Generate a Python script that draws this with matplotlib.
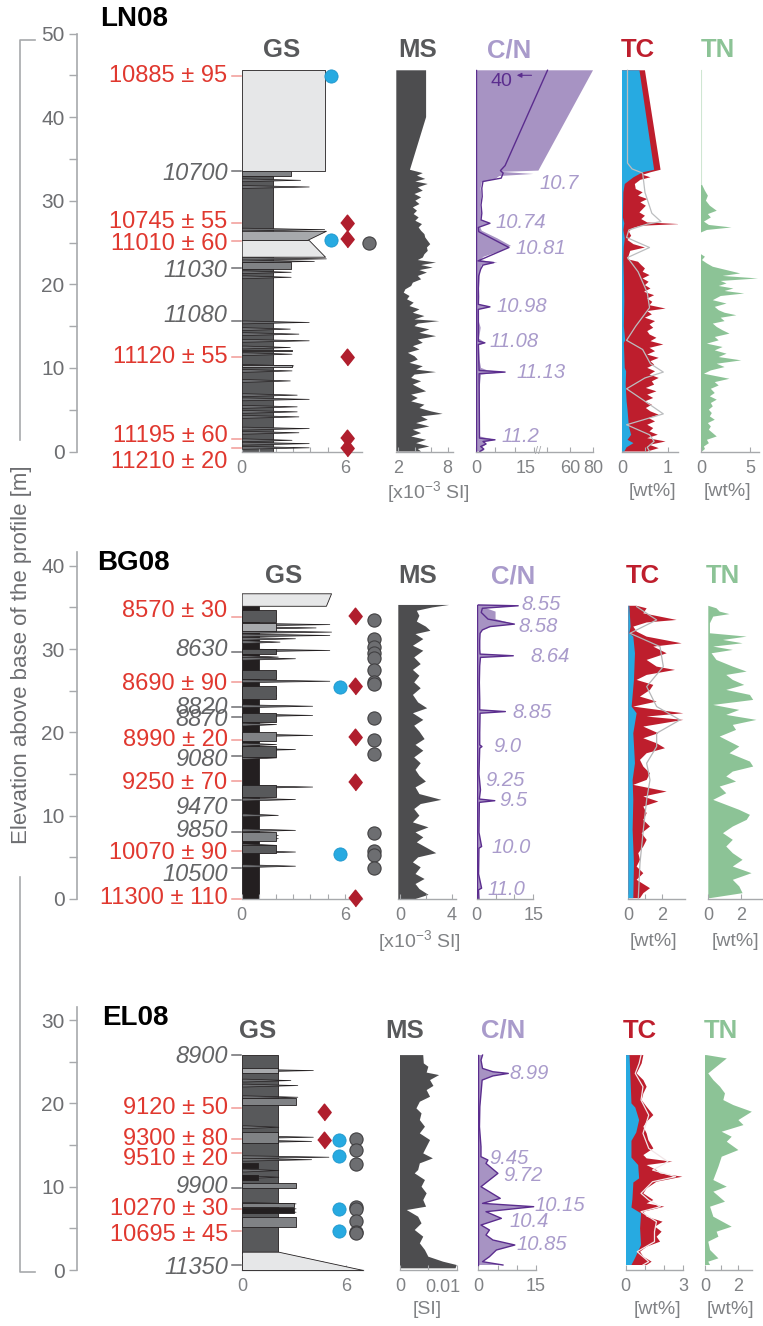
import numpy as np
import matplotlib
matplotlib.use('Agg')
import matplotlib.pyplot as plt
from matplotlib.lines import Line2D

plt.rcParams['font.family'] = ['Liberation Sans', 'DejaVu Sans']
plt.rcParams['mathtext.fontset'] = 'custom'
plt.rcParams['mathtext.rm'] = 'Liberation Sans'
plt.rcParams['mathtext.it'] = 'Liberation Sans:italic'

# =============================== DATA ===============================
# ---------- LN08 ----------
ln_bed_bot = [0.0, 32.9, 33.6, 25.3, 23.3, 21.8, 12.0, 10.1]
ln_bed_top = [32.9, 33.6, 45.6, 26.4, 25.3, 22.7, 12.2, 10.3]
ln_bed_wbot = [1.83, 2.85, 4.85, 3.8, 4.85, 2.85, 2.9, 2.9]
ln_bed_wtop = [1.83, 2.85, 4.85, 4.9, 3.9, 2.85, 2.9, 2.9]
ln_bed_tone = ['d', 'm', 'l', 'g', 'l', 'm', 'g', 'g']
ln_spk_elev = [32.5, 31.7, 26.6, 23.1, 22.8, 21.5, 20.9, 15.5, 14.7, 14.1, 13.3, 12.5, 11.7,
               10.3, 9.7, 8.5, 6.8, 6.3, 5.4, 4.8, 4.2, 2.8, 2.3, 1.4, 1.0, 0.5]
ln_spk_gs = [3.4, 3.9, 4.8, 4.9, 4.2, 2.85, 2.85, 3.9, 2.8, 3.3, 3.9, 2.8, 2.9,
             3.0, 2.9, 2.8, 3.2, 3.9, 3.2, 3.2, 3.3, 3.9, 3.3, 2.9, 3.9, 3.9]
ln_blue_elev = [44.9, 25.3]
ln_dia_elev = [27.3, 25.4, 11.3, 1.6, 0.4]
ln_grey_elev = [24.9]
ln_c14_text = ['10885 ± 95', '10745 ± 55', '11010 ± 60', '11120 ± 55', '11195 ± 60', '11210 ± 20']
ln_c14_elev = [44.9, 27.3, 25.2, 11.3, 1.5, 0.4]
ln_c14_lab_elev = [44.9, 27.5, 24.8, 11.3, 1.9, -1.2]
ln_age_text = ['10700', '11030', '11080']
ln_age_elev = [33.6, 21.9, 15.6]
ln_age_lab_elev = [33.3, 21.7, 16.3]

ln_ms_elev = [45.6, 40.0, 33.7, 33.3, 33.0, 32.6, 32.3, 32.0, 31.6, 31.2, 30.8, 30.4, 30.0, 29.6,
              29.2, 28.8, 28.4, 28.0, 27.6, 27.2, 26.8, 26.4, 26.0, 25.6, 25.2, 24.8, 24.4, 24.0,
              23.6, 23.2, 22.9, 22.6, 22.3, 22.0, 21.7, 21.4, 21.0, 20.6, 20.2, 19.8, 19.4, 19.0,
              18.6, 18.2, 17.8, 17.4, 17.0, 16.6, 16.2, 15.8, 15.6, 15.3, 15.0, 14.6, 14.2, 13.8,
              13.4, 13.0, 12.6, 12.2, 11.8, 11.4, 11.0, 10.6, 10.2, 9.8, 9.5, 9.2, 8.8, 8.4, 8.0,
              7.6, 7.2, 6.8, 6.4, 6.0, 5.6, 5.2, 4.8, 4.5, 4.2, 3.8, 3.4, 3.0, 2.6, 2.2, 1.8, 1.4,
              1.0, 0.6, 0.3, 0.0]
ln_ms_val = [5.4, 5.4, 3.45, 5.0, 4.3, 5.3, 4.1, 5.6, 4.4, 5.0, 4.0, 4.8, 4.1, 4.6,
             3.8, 4.3, 3.9, 4.5, 4.1, 4.9, 4.5, 4.8, 5.2, 5.3, 5.6, 5.9, 5.5, 5.6,
             5.2, 5.0, 4.4, 6.6, 4.8, 6.2, 4.6, 5.5, 4.4, 4.8, 3.8, 3.6, 2.9, 2.7,
             3.4, 3.1, 3.9, 3.4, 4.6, 3.8, 5.2, 4.0, 7.0, 4.4, 4.0, 5.8, 4.6, 6.6,
             4.4, 5.0, 3.8, 4.6, 3.2, 4.0, 4.4, 3.4, 5.0, 4.2, 6.6, 4.0, 3.6, 4.8, 3.8,
             4.6, 5.4, 3.6, 4.4, 3.6, 5.2, 4.6, 6.0, 7.4, 4.8, 5.6, 4.2, 5.8, 3.8, 4.8, 3.6, 5.4,
             4.2, 5.8, 4.4, 4.8]

ln_cnf_elev = [45.6, 33.6, 33.45, 33.2, 32.95, 32.6, 32.2, 31.5, 30.5, 29.5, 28.5, 27.7, 27.3,
               26.9, 26.4, 25.5, 24.6, 24.0, 23.3, 22.9, 22.6, 22.3, 21.5, 20.5, 19.5, 18.5,
               17.6, 17.3, 17.0, 15.5, 14.8, 13.5, 13.0, 12.7, 11.0, 10.0, 9.7, 9.5, 9.2, 7.5,
               5.0, 3.0, 1.8, 1.4, 1.1, 0.8, 0.5, 0.2, 0.0]
ln_cnf_val = [80, 32, 6.5, 14.8, 6.0, 5.0, 1.5, 1.2, 1.4, 1.1, 1.3, 1.2, 3.6,
              1.0, 1.5, 5.5, 9.0, 6.5, 2.0, 1.0, 5.5, 1.5, 1.0, 0.9, 0.8, 0.9,
              0.8, 3.6, 0.8, 0.8, 1.2, 0.8, 2.3, 0.8, 0.9, 1.3, 3.0, 7.5, 1.3, 0.9,
              1.0, 0.9, 1.0, 4.9, 2.0, 2.5, 1.5, 2.2, 1.5]
ln_cnl_elev = [45.6, 34.2, 33.6, 33.3, 32.7, 32.3, 31.5, 30.5, 29.5, 28.5, 27.7, 27.3, 26.8,
               26.3, 24.4, 22.8, 22.6, 22.3, 21.8, 21.0, 19.5, 17.6, 17.3, 17.0, 13.2, 13.0,
               12.8, 9.7, 9.5, 9.3, 1.6, 1.4, 1.2, 0.9, 0.6, 0.3, 0.0]
ln_cnl_val = [40, 7.5, 6.3, 7.0, 6.5, 1.8, 1.5, 1.6, 1.3, 1.5, 1.3, 3.6, 0.6,
              0.7, 8.5, 0.5, 4.6, 1.8, 1.2, 0.7, 0.6, 0.6, 3.6, 0.6, 0.6, 2.3,
              0.6, 0.8, 7.5, 0.8, 0.9, 4.9, 1.8, 2.6, 1.2, 2.0, 1.0]
ln_cn_lab = ['10.7', '10.74', '10.81', '10.98', '11.08', '11.13', '11.2']
ln_cn_lab_elev = [32.1, 27.4, 24.3, 17.3, 13.1, 9.5, 1.8]
ln_cn_lab_x = [33.0, 4.9, 10.1, 5.2, 3.6, 10.5, 6.6]

ln_tc_elev = [45.6, 33.7, 33.4, 33.1, 32.8, 32.5, 32.0, 31.4, 31.0, 30.6, 30.2, 29.8, 29.4, 29.0,
              28.6, 28.2, 27.8, 27.4, 27.2, 27.0, 26.7, 26.3, 25.8, 25.3, 24.8, 24.4, 24.0, 23.5,
              23.0, 22.7, 22.3, 21.9, 21.5, 21.1, 20.7, 20.3, 19.9, 19.5, 19.1, 18.7, 18.3, 17.9,
              17.5, 17.1, 16.8, 16.4, 16.0, 15.6, 15.2, 14.8, 14.4, 14.0, 13.6, 13.2, 12.8, 12.4,
              12.0, 11.6, 11.2, 10.8, 10.4, 10.0, 9.6, 9.2, 8.8, 8.4, 8.0, 7.6, 7.2, 6.8, 6.4, 6.0,
              5.6, 5.2, 4.8, 4.4, 4.0, 3.6, 3.2, 2.8, 2.4, 2.0, 1.6, 1.2, 0.8, 0.4, 0.0]
ln_tc_val = [0.50, 0.84, 0.62, 0.45, 0.62, 0.40, 0.28, 0.30, 0.45, 0.35, 0.55, 0.40, 0.52, 0.45,
             0.38, 0.50, 0.42, 0.55, 1.26, 0.40, 0.22, 0.15, 0.20, 0.12, 0.25, 0.50, 0.18, 0.15,
             0.12, 0.35, 0.42, 0.50, 0.45, 0.60, 0.45, 0.58, 0.50, 0.62, 0.48, 0.70, 0.55, 0.66,
             0.60, 0.95, 0.55, 0.65, 0.50, 0.72, 0.60, 0.68, 0.55, 0.60, 0.75, 0.62, 0.90, 0.60,
             0.72, 0.55, 0.80, 0.62, 0.70, 0.55, 0.72, 0.60, 0.80, 0.65, 0.70, 0.52, 0.75, 0.55, 0.68, 0.50,
             0.65, 0.52, 0.62, 0.80, 0.58, 0.72, 0.55, 0.68, 0.60, 0.78, 0.55, 0.95, 0.60, 0.80, 0.55]
ln_tic_elev = [45.6, 33.7, 33.4, 32.8, 32.0, 31.0, 28.0, 27.3, 26.5, 25.5, 24.5, 23.0, 21.0, 18.0,
               15.0, 13.3, 13.0, 10.0, 9.6, 8.0, 6.0, 5.0, 3.0, 2.0, 1.4, 1.0, 0.5, 0.0]
ln_tic_val = [0.38, 0.70, 0.45, 0.25, 0.06, 0.03, 0.02, 0.05, 0.03, 0.06, 0.04, 0.03, 0.04, 0.05,
              0.04, 0.07, 0.04, 0.06, 0.09, 0.08, 0.10, 0.12, 0.15, 0.20, 0.12, 0.25, 0.10, 0.05]
ln_toc_elev = [45.6, 34.5, 33.8, 33.3, 31.0, 28.5, 27.5, 27.2, 26.5, 25.6, 24.4, 23.2, 21.5, 19.0,
               17.2, 15.0, 13.3, 12.2, 10.5, 9.5, 8.8, 7.5, 6.2, 4.5, 3.2, 2.0, 1.2, 0.5, 0.0]
ln_toc_val = [0.12, 0.12, 0.22, 0.45, 0.50, 0.65, 0.85, 0.55, 0.15, 0.10, 0.60, 0.12, 0.35, 0.55,
              0.60, 0.30, 0.10, 0.45, 0.62, 0.90, 0.50, 0.10, 0.45, 0.90, 0.10, 0.60, 0.70, 0.55, 0.60]

ln_tn_elev = [45.6, 32.2, 31.8, 31.2, 30.6, 30.0, 29.4, 28.8, 28.4, 28.0, 27.5, 27.1, 26.8, 26.5,
              26.2, 23.6, 23.3, 22.9, 22.5, 22.1, 21.7, 21.3, 21.0, 20.7, 20.4, 20.1, 19.8, 19.5,
              19.2, 18.9, 18.6, 18.1, 17.7, 17.3, 16.9, 16.6, 16.3, 16.0, 15.6, 15.3, 14.9, 14.5,
              14.1, 13.7, 13.3, 12.9, 12.5, 12.1, 11.7, 11.3, 10.9, 10.5, 10.1, 9.7, 9.3, 8.7,
              8.3, 7.9, 7.5, 7.0, 6.6, 6.2, 5.8, 5.4, 5.0, 4.6, 4.2, 3.8, 3.4, 3.0, 2.6, 2.2, 1.8,
              1.4, 1.0, 0.6, 0.3, 0.0]
ln_tn_val = [0.0, 0.0, 0.15, 0.4, 0.7, 0.5, 0.9, 1.6, 0.7, 1.0, 0.3, 0.8, 3.1, 0.6,
             0.0, 0.0, 0.4, 0.1, 0.6, 1.2, 2.6, 4.0, 2.2, 5.8, 2.0, 2.6, 1.8, 3.3,
             2.4, 4.4, 2.0, 1.2, 2.6, 1.4, 1.8, 2.4, 3.6, 2.0, 2.4, 1.2, 1.6, 2.2,
             2.9, 1.4, 1.8, 0.6, 2.2, 1.4, 2.6, 1.8, 4.1, 1.6, 2.4, 1.0, 0.3, 2.9,
             1.4, 1.8, 1.0, 1.4, 0.9, 1.6, 1.0, 1.2, 0.8, 1.1, 0.9, 1.4, 0.7, 1.0, 0.8, 1.2, 1.6,
             0.6, 0.8, 0.3, 0.4, 0.1]

# ---------- BG08 ----------
bg_bed_bot = [0.0, 35.2, 33.3, 32.2, 29.4, 26.4, 24.0, 21.2, 19.0, 17.0, 12.3, 7.0, 5.5]
bg_bed_top = [35.2, 36.7, 34.7, 33.1, 30.0, 27.5, 25.6, 22.3, 20.0, 18.4, 13.7, 8.0, 6.5]
bg_bed_wbot = [1.0, 4.9, 2.0, 2.0, 2.0, 2.0, 2.0, 2.0, 2.0, 2.0, 2.0, 2.0, 2.0]
bg_bed_wtop = [1.0, 5.2, 2.0, 2.0, 2.0, 2.0, 2.0, 2.0, 2.0, 2.0, 2.0, 2.0, 2.0]
bg_bed_tone = ['k', 'l', 'd', 'g', 'd', 'd', 'd', 'd', 'm', 'd', 'd', 'm', 'd']
bg_spk_elev = [33.0, 32.6, 32.1, 31.7, 31.3, 30.9, 29.9, 29.1, 28.9, 26.2, 25.3, 24.5, 23.2,
               22.1, 21.0, 19.7, 18.6, 18.0, 17.0, 13.5, 12.0, 10.1, 8.3, 7.7, 7.3, 6.5, 5.7, 4.0]
bg_spk_gs = [5.1, 4.3, 5.2, 5.1, 3.1, 2.2, 5.1, 2.1, 3.1, 5.1, 2.0, 2.0, 4.1,
             4.1, 2.0, 4.1, 2.0, 3.1, 2.0, 4.1, 3.1, 2.1, 3.1, 2.1, 2.1, 2.0, 3.1, 3.1]
bg_blue_elev = [25.5, 5.4]
bg_dia_elev = [34.0, 25.6, 19.4, 14.0, 0.1]
bg_grey_elev = [33.5, 31.2, 30.3, 29.5, 28.9, 27.5, 26.1, 25.8, 21.7, 19.1, 17.4, 7.9, 5.8, 5.3, 3.7]
bg_c14_text = ['8570 ± 30', '8690 ± 90', '8990 ± 20', '9250 ± 70', '10070 ± 90', '11300 ± 110']
bg_c14_elev = [33.8, 26.0, 19.1, 14.2, 5.8, 0.0]
bg_c14_lab_elev = [34.6, 25.8, 19.1, 13.9, 5.5, 0.1]
bg_age_text = ['8630', '8820', '8870', '9080', '9470', '9850', '10500']
bg_age_elev = [29.7, 23.0, 21.9, 17.2, 11.9, 8.1, 3.7]
bg_age_lab_elev = [29.9, 23.0, 21.5, 16.7, 11.0, 8.2, 3.0]

bg_ms_elev = [35.3, 35.0, 34.6, 34.0, 33.3, 32.7, 32.2, 31.8, 31.2, 30.4, 29.8, 29.0, 28.2, 27.5,
              26.8, 26.0, 25.3, 24.5, 23.6, 22.9, 22.3, 21.5, 20.8, 20.1, 19.2, 18.5, 17.8, 17.0,
              16.3, 15.5, 14.8, 14.1, 13.4, 12.6, 11.9, 11.4, 10.8, 10.0, 9.2, 8.6, 8.0, 7.4, 6.8,
              6.2, 5.5, 5.0, 4.4, 3.8, 3.0, 2.4, 1.8, 1.2, 0.5, 0.0]
bg_ms_val = [3.8, 2.5, 1.3, 1.5, 1.3, 2.0, 2.35, 1.2, 1.8, 1.0, 1.8, 1.1, 1.6, 1.0,
             1.5, 1.1, 1.6, 1.0, 1.4, 2.1, 1.0, 1.8, 1.1, 1.5, 1.9, 1.2, 1.8, 1.1,
             1.6, 1.2, 1.5, 2.0, 1.2, 1.5, 3.2, 1.6, 1.1, 1.5, 1.0, 2.2, 1.2, 1.8, 1.3,
             2.0, 2.8, 1.4, 1.0, 1.6, 1.2, 1.9, 1.2, 1.5, 2.2, 1.2]

bg_cnl_elev = [35.3, 35.2, 34.9, 34.4, 33.6, 33.0, 32.7, 32.3, 31.9, 31.0, 30.0, 29.4, 29.2, 29.0,
               28.0, 26.0, 24.0, 22.7, 22.5, 22.3, 20.0, 18.5, 18.3, 18.1, 15.0, 13.1, 12.0, 11.8,
               11.6, 8.0, 6.3, 6.1, 3.0, 1.3, 1.1, 0.0]
bg_cnl_val = [0.5, 11.0, 1.5, 1.2, 3.0, 10.0, 3.5, 1.5, 0.9, 0.8, 0.8, 0.9, 9.7, 1.0,
              0.8, 0.7, 0.8, 0.8, 7.6, 0.9, 0.8, 0.8, 1.4, 0.8, 0.6, 1.0, 0.7, 4.8,
              0.7, 0.6, 1.3, 0.6, 0.5, 1.3, 0.5, 0.6]
bg_cnf_elev = [35.3, 35.2, 34.9, 34.5, 33.6, 33.0, 32.7, 32.3, 31.9, 31.0, 30.0, 29.4, 29.2, 29.0,
               28.0, 26.0, 24.0, 22.7, 22.5, 22.3, 20.0, 18.5, 18.3, 18.1, 15.0, 13.1, 12.0, 11.8,
               11.6, 8.0, 6.3, 6.1, 3.0, 1.3, 1.1, 0.0]
bg_cnf_val = [0.5, 11.0, 2.5, 5.0, 5.0, 10.0, 4.0, 1.5, 0.9, 0.8, 0.8, 0.9, 9.7, 1.0,
              0.8, 0.7, 0.8, 0.8, 7.6, 0.9, 0.8, 0.8, 1.4, 0.8, 0.6, 1.0, 0.7, 4.8,
              0.7, 0.6, 1.3, 0.6, 0.5, 1.3, 0.5, 0.6]
bg_cn_lab = ['8.55', '8.58', '8.64', '8.85', '9.0', '9.25', '9.5', '10.0', '11.0']
bg_cn_lab_elev = [35.3, 32.7, 29.1, 22.4, 18.3, 14.2, 11.8, 6.2, 1.1]
bg_cn_lab_x = [11.8, 11.2, 14.2, 9.5, 4.4, 2.2, 6.1, 3.8, 2.9]

bg_tc_elev = [35.2, 34.9, 34.3, 33.9, 33.5, 33.2, 32.7, 32.1, 31.5, 30.7, 30.3, 29.5, 28.7, 27.9,
              27.5, 26.9, 26.3, 25.7, 25.1, 24.3, 23.7, 23.1, 22.3, 21.9, 21.5, 20.7, 19.9, 19.3,
              18.7, 18.1, 17.5, 16.7, 15.9, 15.1, 14.3, 13.7, 12.9, 12.3, 11.7, 11.1, 10.3, 9.5,
              8.7, 7.9, 7.1, 6.3, 5.5, 4.7, 3.9, 3.1, 2.3, 1.3, 0.7, 0.1]
bg_tc_val = [0.5, 1.1, 0.9, 1.9, 2.9, 1.1, 0.3, 0.5, 1.1, 3.2, 1.5, 2.3, 1.1, 1.7,
             2.8, 1.1, 0.5, 1.5, 1.3, 0.7, 1.7, 0.3, 3.3, 1.1, 3.3, 0.9, 1.8, 0.9,
             1.7, 2.2, 1.1, 0.7, 0.9, 1.3, 1.1, 0.3, 2.3, 0.9, 1.8, 0.9, 1.1, 0.9,
             1.3, 0.8, 1.1, 0.9, 0.6, 0.7, 0.5, 0.9, 0.5, 1.3, 0.9, 0.7]
bg_tic_elev = [35.2, 32.7, 31.9, 31.5, 29.5, 26.3, 23.1, 22.3, 19.9, 16.3, 14.3, 11.9, 8.3, 4.3, 0.1]
bg_tic_val = [0.06, 0.14, 0.06, 0.3, 0.4, 0.34, 0.2, 0.5, 0.3, 0.4, 0.26, 0.3, 0.26, 0.34, 0.3]
bg_toc_elev = [35.1, 33.5, 31.9, 30.3, 27.9, 25.5, 23.1, 21.5, 19.9, 18.3, 16.3, 14.3, 11.9, 8.3, 4.3, 0.1]
bg_toc_val = [0.5, 1.7, 0.1, 1.9, 2.1, 1.1, 1.7, 3.1, 1.7, 1.7, 1.1, 1.3, 1.1, 0.9, 0.7, 0.6]

bg_tn_elev = [35.2, 34.9, 34.5, 34.2, 33.9, 33.1, 31.9, 31.5, 31.1, 30.7, 30.3, 29.9, 29.5, 28.7,
              27.9, 27.3, 26.9, 26.3, 25.7, 25.1, 24.5, 23.9, 23.3, 22.7, 22.1, 21.5, 20.9, 20.3,
              19.5, 18.7, 18.3, 17.5, 16.5, 15.9, 15.3, 14.7, 14.1, 13.5, 12.7, 11.9, 10.7, 10.1,
              9.5, 8.7, 7.9, 7.1, 6.3, 5.5, 4.7, 3.9, 3.1, 2.3, 1.5, 0.7, 0.1]
bg_tn_val = [0.0, 0.5, 0.7, 1.3, 0.3, 0.1, 0.1, 2.35, 0.9, 2.1, 0.3, 1.5, 0.2, 0.5,
             1.5, 2.35, 1.1, 1.5, 2.2, 1.1, 2.55, 2.75, 0.3, 1.9, 1.1, 2.95, 1.5, 1.7,
             0.7, 1.5, 1.9, 1.3, 2.55, 2.75, 1.5, 1.1, 1.7, 0.7, 1.1, 0.3, 1.9, 2.55,
             2.35, 1.5, 0.9, 1.5, 1.1, 1.5, 2.1, 1.5, 2.65, 1.5, 1.9, 2.1, 0.1]

# ---------- EL08 ----------
el_bed_bot = [2.0, 23.6, 19.8, 15.2, 12.2, 10.8, 9.9, 7.6, 6.9, 5.2, 0.0]
el_bed_top = [25.8, 24.2, 20.6, 16.6, 12.8, 11.4, 10.5, 8.1, 7.4, 6.4, 2.2]
el_bed_wbot = [2.1, 2.1, 3.1, 2.1, 0.9, 0.9, 3.1, 3.0, 3.0, 3.1, 7.0]
el_bed_wtop = [2.1, 2.1, 3.1, 2.1, 0.9, 0.9, 3.1, 3.0, 3.0, 3.1, 2.1]
el_bed_tone = ['d', 'g', 'm', 'm', 'k', 'k', 'm', 'm', 'k', 'm', 'l']
el_spk_elev = [24.0, 22.8, 22.2, 20.8, 17.2, 16.0, 15.5, 13.6, 13.3, 12.0, 11.2, 10.2,
               8.0, 7.4, 7.0, 6.0, 5.4, 1.5, 1.0]
el_spk_gs = [4.1, 2.8, 3.2, 3.2, 2.1, 4.1, 4.0, 5.0, 4.0, 2.1, 2.1, 3.1,
             3.1, 3.1, 3.1, 3.1, 3.1, 3.6, 4.7]
el_blue_elev = [15.6, 13.7, 7.3, 4.7]
el_dia_elev = [19.0, 15.6]
el_grey_elev = [15.7, 14.4, 12.7, 7.6, 7.3, 5.9, 4.6, 4.4]
el_c14_text = ['9120 ± 50', '9300 ± 80', '9510 ± 20', '10270 ± 30', '10695 ± 45']
el_c14_elev = [19.4, 15.7, 14.0, 7.3, 4.7]
el_c14_lab_elev = [19.4, 15.7, 13.3, 7.3, 4.2]
el_age_text = ['8900', '9900', '11350']
el_age_elev = [25.8, 9.8, 0.6]
el_age_lab_elev = [25.6, 10.0, 0.3]

el_ms_elev = [25.8, 24.8, 24.4, 23.7, 23.4, 22.8, 22.1, 21.6, 20.8, 20.2, 19.4, 18.8, 18.0, 17.2,
              16.4, 15.6, 14.8, 14.0, 13.4, 12.8, 12.0, 11.6, 10.8, 10.0, 9.2, 8.4, 7.6, 7.2, 6.4,
              5.6, 4.8, 4.0, 3.2, 2.4, 1.6, 1.0, 0.6, 0.2]
el_ms_val = [0.0041, 0.0042, 0.0050, 0.0047, 0.0069, 0.0053, 0.0059, 0.0047, 0.0053, 0.0035,
             0.0029, 0.0038, 0.0035, 0.0044, 0.0035, 0.0053, 0.0047, 0.0041, 0.0058, 0.0035,
             0.0032, 0.0026, 0.0044, 0.0038, 0.0047, 0.0041, 0.0046, 0.0012, 0.0032, 0.0038,
             0.0026, 0.0041, 0.0035, 0.0044, 0.0050, 0.0076, 0.0100, 0.0098]

el_cn_elev = [25.8, 25.2, 24.2, 23.8, 23.6, 23.3, 22.8, 19.6, 17.2, 14.8, 13.6, 13.2, 12.8, 11.6,
              10.8, 10.0, 8.6, 8.0, 7.6, 7.0, 6.2, 5.4, 4.8, 4.2, 3.6, 3.0, 2.4, 1.6, 1.0, 0.6]
el_cn_val = [1.1, 0.7, 1.1, 3.8, 7.8, 3.8, 1.0, 0.4, 0.3, 0.7, 0.7, 2.5, 2.0, 5.1,
             2.9, 0.7, 5.7, 1.1, 14.4, 2.0, 6.0, 0.7, 2.9, 2.0, 3.8, 9.5, 4.7, 2.9, 1.1, 6.4]
el_cn_lab = ['8.99', '9.45', '9.72', '10.15', '10.4', '10.85']
el_cn_lab_elev = [23.6, 13.4, 11.3, 7.7, 5.8, 3.1]
el_cn_lab_x = [8.2, 2.9, 6.4, 14.6, 8.2, 9.8]

el_tc_elev = [25.8, 24.8, 23.6, 22.8, 22.0, 21.2, 20.4, 19.6, 18.6, 17.8, 17.2, 16.4, 15.6, 14.6,
              13.8, 13.4, 13.0, 12.6, 12.0, 11.6, 11.2, 10.6, 9.8, 9.2, 8.4, 8.0, 7.6, 7.0, 6.4,
              5.8, 5.2, 4.6, 4.0, 3.4, 2.8, 2.2, 1.6, 1.0, 0.6]
el_tc_val = [0.92, 0.83, 0.57, 0.92, 1.09, 0.92, 0.83, 1.09, 1.44, 1.09, 0.92, 1.09, 1.18, 1.44,
             0.92, 1.09, 2.43, 1.09, 1.61, 1.79, 2.95, 1.61, 1.09, 0.92, 1.44, 1.09, 2.01, 0.92, 1.09,
             1.92, 1.53, 1.87, 1.61, 1.79, 1.09, 0.75, 0.92, 1.35, 1.09]
el_tic_elev = [25.8, 23.0, 20.0, 19.5, 18.0, 16.5, 15.5, 13.5, 12.6, 11.0, 10.5, 8.5, 7.5, 6.8,
               5.0, 3.0, 1.5, 0.6]
el_tic_val = [0.2, 0.25, 0.3, 0.5, 0.7, 0.55, 0.3, 0.3, 0.65, 0.7, 0.4, 0.35, 0.3, 0.8,
              0.75, 0.8, 0.5, 0.3]
el_toc_elev = [25.8, 24.8, 23.6, 22.0, 20.4, 18.6, 16.4, 14.6, 13.0, 12.0, 11.2, 10.6, 9.2, 8.4,
               7.6, 7.0, 5.8, 4.6, 3.4, 2.2, 1.0, 0.6]
el_toc_val = [0.8, 0.7, 0.5, 0.9, 0.8, 1.2, 0.9, 1.2, 2.2, 1.4, 2.6, 1.4, 0.8, 1.2,
              1.8, 0.8, 1.6, 1.5, 1.5, 0.6, 1.2, 0.9]

el_tn_elev = [25.8, 25.4, 23.6, 22.8, 22.0, 21.2, 20.4, 19.8, 19.0, 18.0, 17.4, 16.6, 16.0, 15.4,
              14.4, 13.6, 12.4, 10.8, 10.0, 9.4, 8.2, 7.6, 6.4, 5.2, 4.6, 4.0, 3.4, 2.4, 1.4, 1.0, 0.6]
el_tn_val = [0.10, 1.33, 0.20, 0.51, 0.92, 1.22, 1.12, 1.73, 2.86, 2.04, 2.35, 1.02, 1.63, 1.33,
             2.04, 1.02, 0.82, 0.51, 1.33, 0.51, 1.22, 0.31, 0.51, 1.63, 0.71, 0.82, 0.20, 0.31,
             0.82, 0.20, 0.31]

# =============================== STYLE / LAYOUT ===============================
W, H = 763, 1326
fig = plt.figure(figsize=(W / 100, H / 100), dpi=100)

AX = '#A7A9AC'
TK = '#808285'
TONES = {'k': '#231F20', 'd': '#58595B', 'm': '#808285', 'g': '#A7A9AC', 'l': '#E6E7E8'}
C_MS = '#4D4D4F'
C_CNF = '#A793C3'
C_CNL = '#5B2D8E'
C_CNT = '#A99BCB'
C_RED = '#BE1E2D'
C_BLUE = '#27AAE1'
C_GREEN = '#8CC396'
C_DATE = '#E0382F'
C_DIA = '#B01E2D'
C_GREY = '#6D6E71'
C_AGE = '#636466'


def add_ax(x0, x1, ytop, ybot):
    return fig.add_axes([x0 / W, 1 - ybot / H, (x1 - x0) / W, (ybot - ytop) / H])


def ftext(x, y, s, **kw):
    fig.text(x / W, 1 - y / H, s, **kw)


def col(pan, x0, x1, xlim, ticks, labels, scale=None):
    ax = add_ax(x0, x1, pan['y0'] - pan['etop'] * pan['s'], pan['y0'])
    if scale is not None:
        ax.set_xscale('function', functions=scale)
    ax.set_xlim(*xlim)
    ax.set_ylim(0, pan['etop'])
    for sp in ['left', 'right', 'top']:
        ax.spines[sp].set_visible(False)
    ax.spines['bottom'].set_color(AX)
    ax.spines['bottom'].set_linewidth(1.0)
    ax.set_yticks([])
    ax.set_xticks(ticks)
    ax.set_xticklabels(labels)
    ax.tick_params(axis='x', direction='in', length=3.5, width=0.8, color=AX,
                   labelcolor=TK, labelsize=13, pad=6)
    ax.patch.set_alpha(0)
    return ax


def extra_ticklabel(ax, x, s):
    # a tick label placed at its own horizontal spot, same offset as the others
    ax.annotate(s, xy=(x, 0), xycoords=('data', 'axes fraction'), xytext=(0, -6.3),
                textcoords='offset points', ha='center', va='top', color=TK, fontsize=13,
                annotation_clip=False)


def elev_axis(pan, ticks):
    ax = add_ax(77, 78, pan['y0'] - pan['etop'] * pan['s'], pan['y0'])
    ax.set_ylim(0, pan['etop'])
    for sp in ['bottom', 'right', 'top']:
        ax.spines[sp].set_visible(False)
    ax.spines['left'].set_color(AX)
    ax.spines['left'].set_linewidth(1.2)
    ax.set_xticks([])
    ax.set_yticks(ticks)
    ax.set_yticks([t + 5 for t in ticks[:-1]], minor=True)
    ax.tick_params(axis='y', which='both', direction='out', length=6, width=1, color=AX,
                   labelcolor='#6D6E71', labelsize=15, pad=3)
    ax.patch.set_alpha(0)


def draw_gs(ax, bbot, btop, wbot, wtop, tone, selev, sgs):
    ax.fill_betweenx([bbot[0], btop[0]], 0, [wbot[0], wtop[0]], facecolor=TONES[tone[0]],
                     edgecolor='#231F20', linewidth=0.6, zorder=1)
    for e, w in zip(selev, sgs):
        ax.fill_betweenx([e - 0.17, e, e + 0.17], 0, [0.2, w, 0.2], facecolor='#6D6E71',
                         edgecolor='#231F20', linewidth=0.5, zorder=2)
    for b, t, w0, w1, tn in zip(bbot[1:], btop[1:], wbot[1:], wtop[1:], tone[1:]):
        ax.fill_betweenx([b, t], 0, [w0, w1], facecolor=TONES[tn],
                         edgecolor='#231F20', linewidth=0.6, zorder=3)


DIAMOND = [(0, -1), (0.8, 0), (0, 1), (-0.8, 0)]


def markers(ax, xb, eb, xd, ed, xg, eg):
    if eg:
        ax.plot([xg] * len(eg), eg, 'o', ms=9.5, mfc=C_GREY, mec='#414042', mew=0.8,
                clip_on=False, zorder=5)
    if eb:
        ax.plot([xb] * len(eb), eb, 'o', ms=9.5, mfc=C_BLUE, mec='#1E96CC', mew=0.6,
                clip_on=False, zorder=5)
    if ed:
        ax.plot([xd] * len(ed), ed, marker=DIAMOND, ls='none', ms=12, mfc=C_DIA, mec=C_DIA,
                clip_on=False, zorder=5)


def dates(ax, texts, elev, lab_elev, color, tcolor, italic, fs):
    for s, e, le in zip(texts, elev, lab_elev):
        ax.plot([-0.55, -0.03], [e, e], color=tcolor, lw=1.1, clip_on=False, zorder=4)
        ax.text(-0.82, le, s, ha='right', va='center', color=color, fontsize=fs,
                style='italic' if italic else 'normal', clip_on=False)


def cn_labels(ax, labs, elev, xs):
    for s, e, x in zip(labs, elev, xs):
        ax.text(x, e, s, color=C_CNT, fontsize=14.5, style='italic', ha='left', va='center',
                clip_on=False)


def tc_col(ax, te, tv, ie, iv, oe, ov, lcol):
    ax.fill_betweenx(te, 0, tv, facecolor=C_RED, edgecolor='none', zorder=1)
    ax.fill_betweenx(ie, 0, iv, facecolor=C_BLUE, edgecolor='none', zorder=2)
    ax.plot(ov, oe, color=lcol, lw=0.9, zorder=3)


def cn_fwd(v):
    v = np.asarray(v, float)
    return np.where(v <= 15, v, np.where(v <= 30, 15 + (v - 15) * 0.5 / 15,
                                         15.5 + (v - 30) * (8.8 / 30)))


def cn_inv(u):
    u = np.asarray(u, float)
    return np.where(u <= 15, u, np.where(u <= 15.5, 15 + (u - 15) * 30,
                                         30 + (u - 15.5) * (30 / 8.8)))


PAN = {
    'LN': dict(y0=451.5, s=8.36, etop=50.0),
    'BG': dict(y0=899.0, s=8.33, etop=41.6),
    'EL': dict(y0=1270.0, s=8.33, etop=31.6),
}
GS_TICKS = list(range(7))
GS_LABS = ['0', '', '', '', '', '', '6']

# ---------------- LN08 ----------------
p = PAN['LN']
elev_axis(p, [0, 10, 20, 30, 40, 50])
ax = col(p, 241.7, 362, (0, 7.0), GS_TICKS, GS_LABS)
draw_gs(ax, ln_bed_bot, ln_bed_top, ln_bed_wbot, ln_bed_wtop, ln_bed_tone, ln_spk_elev, ln_spk_gs)
markers(ax, 5.2, ln_blue_elev, 6.1, ln_dia_elev, 7.4, ln_grey_elev)
dates(ax, ln_c14_text, ln_c14_elev, ln_c14_lab_elev, C_DATE, '#F19A96', False, 17)
dates(ax, ln_age_text, ln_age_elev, ln_age_lab_elev, C_AGE, '#6D6E71', True, 17)

ax = col(p, 396.3, 453, (1.8, 8.65), [2, 4, 6, 8], ['2', '', '', '8'])
ax.fill_betweenx(ln_ms_elev, 1.8, ln_ms_val, facecolor=C_MS, edgecolor='none')

ax = col(p, 476, 593, (0, 80), [0, 5, 10, 15, 40, 60, 80], ['0', '', '', '', '', '60', '80'],
         scale=(cn_fwd, cn_inv))
ax.fill_betweenx(ln_cnf_elev, 0, ln_cnf_val, facecolor=C_CNF, edgecolor='none')
ax.plot(ln_cnl_val, ln_cnl_elev, color=C_CNL, lw=1.0)
ax.plot([0, 0], [0, 45.6], color=C_CNL, lw=1.0)
cn_labels(ax, ln_cn_lab, ln_cn_lab_elev, ln_cn_lab_x)
ax.text(6.6, 44.2, '40', color=C_CNL, fontsize=14, ha='center', va='center')
ax.annotate('', xy=(9.8, 45.0), xytext=(16, 45.0),
            arrowprops=dict(arrowstyle='-|>', color=C_CNL, lw=0.8, mutation_scale=7))
extra_ticklabel(ax, 12.7, '15')
ax.text(32, 0.0, '//', ha='center', va='center', color=AX, fontsize=8, clip_on=False)

ax = col(p, 622, 678, (0, 1.22), [0, 0.5, 1], ['0', '', '1'])
tc_col(ax, ln_tc_elev, ln_tc_val, ln_tic_elev, ln_tic_val, ln_toc_elev, ln_toc_val, '#BCBEC0')
ax = col(p, 701, 759, (0, 5.9), [0, 5], ['0', '5'])
ax.fill_betweenx(ln_tn_elev, 0, ln_tn_val, facecolor=C_GREEN, edgecolor='none')
ax.plot([0, 0], [32, 45.6], color='#CFE6D2', lw=0.8)

ftext(134, 19, 'LN08', fontsize=20, fontweight='bold', ha='center', va='center', color='#000000')
ftext(282, 50, 'GS', fontsize=18.5, fontweight='bold', ha='center', va='center', color='#58595B')
ftext(417.5, 50, 'MS', fontsize=18.5, fontweight='bold', ha='center', va='center', color='#58595B')
ftext(509.5, 50, 'C/N', fontsize=18.5, fontweight='bold', ha='center', va='center', color=C_CNT)
ftext(638, 50, 'TC', fontsize=18.5, fontweight='bold', ha='center', va='center', color=C_RED)
ftext(717.5, 50, 'TN', fontsize=18.5, fontweight='bold', ha='center', va='center', color=C_GREEN)
ftext(428, 492, r'[x10$^{-3}$ SI]', fontsize=14, ha='center', va='center', color=TK)
ftext(652, 492, '[wt%]', fontsize=14, ha='center', va='center', color=TK)
ftext(727, 492, '[wt%]', fontsize=14, ha='center', va='center', color=TK)

# ---------------- BG08 ----------------
p = PAN['BG']
elev_axis(p, [0, 10, 20, 30, 40])
ax = col(p, 241.7, 362, (0, 7.0), GS_TICKS, GS_LABS)
draw_gs(ax, bg_bed_bot, bg_bed_top, bg_bed_wbot, bg_bed_wtop, bg_bed_tone, bg_spk_elev, bg_spk_gs)
markers(ax, 5.7, bg_blue_elev, 6.6, bg_dia_elev, 7.7, bg_grey_elev)
dates(ax, bg_c14_text, bg_c14_elev, bg_c14_lab_elev, C_DATE, '#F19A96', False, 17)
dates(ax, bg_age_text, bg_age_elev, bg_age_lab_elev, C_AGE, '#6D6E71', True, 17)

ax = col(p, 398.3, 455.7, (-0.13, 4.3), [0, 2, 4], ['0', '', '4'])
ax.fill_betweenx(bg_ms_elev, -0.13, bg_ms_val, facecolor=C_MS, edgecolor='none')
ax = col(p, 476.7, 533.3, (0, 15), [0, 5, 10, 15], ['0', '', '', '15'])
ax.fill_betweenx(bg_cnf_elev, 0, bg_cnf_val, facecolor=C_CNF, edgecolor='none')
ax.plot(bg_cnl_val, bg_cnl_elev, color=C_CNL, lw=1.0)
ax.plot([0, 0], [0, 35.3], color=C_CNL, lw=1.0)
cn_labels(ax, bg_cn_lab, bg_cn_lab_elev, bg_cn_lab_x)
ax = col(p, 628.3, 685, (0, 3.4), [0, 1, 2], ['0', '', '2'])
tc_col(ax, bg_tc_elev, bg_tc_val, bg_tic_elev, bg_tic_val, bg_toc_elev, bg_toc_val, '#B5B6B8')
ax = col(p, 708.3, 763, (0, 3.35), [0, 2], ['0', '2'])
ax.fill_betweenx(bg_tn_elev, 0, bg_tn_val, facecolor=C_GREEN, edgecolor='none')

ftext(133.5, 563, 'BG08', fontsize=20, fontweight='bold', ha='center', va='center', color='#000000')
ftext(283.3, 576, 'GS', fontsize=18.5, fontweight='bold', ha='center', va='center', color='#58595B')
ftext(417.5, 576, 'MS', fontsize=18.5, fontweight='bold', ha='center', va='center', color='#58595B')
ftext(513, 576, 'C/N', fontsize=18.5, fontweight='bold', ha='center', va='center', color=C_CNT)
ftext(643, 576, 'TC', fontsize=18.5, fontweight='bold', ha='center', va='center', color=C_RED)
ftext(722.5, 576, 'TN', fontsize=18.5, fontweight='bold', ha='center', va='center', color=C_GREEN)
ftext(419, 941, r'[x10$^{-3}$ SI]', fontsize=14, ha='center', va='center', color=TK)
ftext(653, 941, '[wt%]', fontsize=14, ha='center', va='center', color=TK)
ftext(735, 941, '[wt%]', fontsize=14, ha='center', va='center', color=TK)

# ---------------- EL08 ----------------
p = PAN['EL']
elev_axis(p, [0, 10, 20, 30])
ax = col(p, 242, 363, (0, 7.0), GS_TICKS, GS_LABS)
draw_gs(ax, el_bed_bot, el_bed_top, el_bed_wbot, el_bed_wtop, el_bed_tone, el_spk_elev, el_spk_gs)
markers(ax, 5.6, el_blue_elev, 4.75, el_dia_elev, 6.6, el_grey_elev)
dates(ax, el_c14_text, el_c14_elev, el_c14_lab_elev, C_DATE, '#F19A96', False, 17)
dates(ax, el_age_text, el_age_elev, el_age_lab_elev, C_AGE, '#6D6E71', True, 17)

ax = col(p, 400, 456.7, (0, 0.01), [0, 0.005, 0.01], ['0', '', ''])
ax.fill_betweenx(el_ms_elev, 0, el_ms_val, facecolor=C_MS, edgecolor='none')
extra_ticklabel(ax, 0.0075, '0.01')
ax = col(p, 478.3, 536, (0, 15), [0, 5, 10, 15], ['0', '', '', '15'])
ax.fill_betweenx(el_cn_elev, 0, el_cn_val, facecolor=C_CNF, edgecolor='none')
ax.plot(el_cn_val, el_cn_elev, color=C_CNL, lw=1.0)
ax.plot([0, 0], [0.6, 25.8], color=C_CNL, lw=1.0)
cn_labels(ax, el_cn_lab, el_cn_lab_elev, el_cn_lab_x)
ax = col(p, 625.7, 683.3, (0, 3.0), [0, 1, 2, 3], ['0', '', '', '3'])
tc_col(ax, el_tc_elev, el_tc_val, el_tic_elev, el_tic_val, el_toc_elev, el_toc_val, '#F2E6E8')
ax = col(p, 705, 752, (0, 2.87), [0, 1, 2], ['0', '', '2'])
ax.fill_betweenx(el_tn_elev, 0, el_tn_val, facecolor=C_GREEN, edgecolor='none')

ftext(135, 1018, 'EL08', fontsize=20, fontweight='bold', ha='center', va='center', color='#000000')
ftext(258, 1031, 'GS', fontsize=18.5, fontweight='bold', ha='center', va='center', color='#58595B')
ftext(405, 1031, 'MS', fontsize=18.5, fontweight='bold', ha='center', va='center', color='#58595B')
ftext(503.5, 1031, 'C/N', fontsize=18.5, fontweight='bold', ha='center', va='center', color=C_CNT)
ftext(640, 1031, 'TC', fontsize=18.5, fontweight='bold', ha='center', va='center', color=C_RED)
ftext(720.5, 1031, 'TN', fontsize=18.5, fontweight='bold', ha='center', va='center', color=C_GREEN)
ftext(427, 1310, '[SI]', fontsize=14, ha='center', va='center', color=TK)
ftext(657, 1310, '[wt%]', fontsize=14, ha='center', va='center', color=TK)
ftext(730, 1310, '[wt%]', fontsize=14, ha='center', va='center', color=TK)

# ---------------- shared y label and brackets ----------------
ftext(22, 655, 'Elevation above base of the profile [m]', rotation=90, fontsize=16,
      ha='center', va='center', color='#6D6E71')


def fline(xs, ys):
    fig.add_artist(Line2D([x / W for x in xs], [1 - y / H for y in ys], color=AX, lw=1.2))


fline([35, 20, 20], [40, 40, 440])
fline([20, 20, 35], [877, 1272, 1272])

fig.savefig('out.png', dpi=100)
